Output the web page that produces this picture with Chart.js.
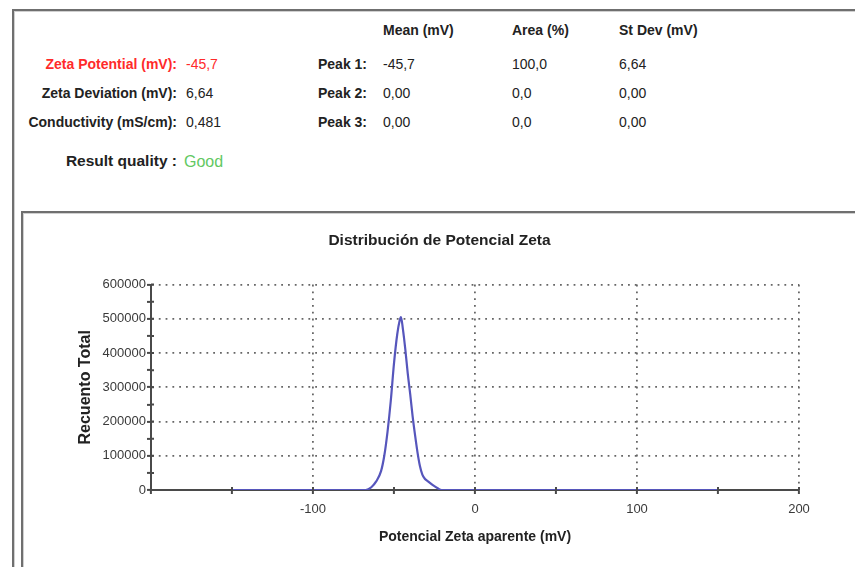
<!DOCTYPE html>
<html>
<head>
<meta charset="utf-8">
<script src="https://cdn.jsdelivr.net/npm/chart.js@4.4.0/dist/chart.umd.min.js"></script>
<style>
  html, body { margin: 0; padding: 0; background: #fff; }
  body { width: 855px; height: 567px; position: relative; overflow: hidden;
         font-family: "Liberation Sans", Arial, sans-serif; color: #222; }
  .frame { position: absolute; border-top: 2px solid #6f6f6f; border-left: 2px solid #6f6f6f;
           box-shadow: inset 1px 1px 0 #d0d0d0; }
  .t { position: absolute; font-size: 14px; line-height: 16px; white-space: nowrap; }
  .b { font-weight: bold; }
  .r { text-align: right; }
  .red { color: #ff2a2a; }
  #chartBox { position: absolute; left: 24px; top: 214px; width: 831px; height: 353px; }
</style>
</head>
<body>
<div class="frame" style="left:12px; top:9px; width:900px; height:600px;"></div>
<div class="frame" style="left:21px; top:211px; width:900px; height:400px;"></div>

<div id="summary"></div>

<div id="chartBox"><canvas id="zetaChart" width="831" height="353"></canvas></div>

<script>
// tabla de resultados
var headers = ['Mean (mV)', 'Area (%)', 'St Dev (mV)'];
var peakNames = ['Peak 1:', 'Peak 2:', 'Peak 3:'];
var peakMean = ['-45,7', '0,00', '0,00'];
var peakArea = ['100,0', '0,0', '0,0'];
var peakStDev = ['6,64', '0,00', '0,00'];
var summaryLabels = ['Zeta Potential (mV):', 'Zeta Deviation (mV):', 'Conductivity (mS/cm):'];
var summaryValues = ['-45,7', '6,64', '0,481'];

// distribucion
var zetaMv = [-150, -67.5, -64, -61, -58, -56, -54, -52, -50, -48, -46.5, -45.7, -44.5, -43, -41.5, -40,
              -38.5, -37, -35.5, -34, -32.5, -31, -29, -26, -23, -20.6, 150];
var totalCounts = [0, 0, 8000, 25000, 55000, 100000, 170000, 260000, 370000, 455000, 495000, 505000, 470000,
                   410000, 340000, 280000, 215000, 160000, 110000, 70000, 45000, 33000, 25000, 14000, 5000, 0, 0];
var xTickLabels = [-100, 0, 100, 200];
var yTickLabels = [0, 100000, 200000, 300000, 400000, 500000, 600000];

function addText(txt, x, y, cls, w) {
    var d = document.createElement('div');
    d.className = 't ' + (cls || '');
    d.textContent = txt;
    d.style.top = (y - 8) + 'px';
    if (w) { d.style.left = (x - w) + 'px'; d.style.width = w + 'px'; }
    else d.style.left = x + 'px';
    document.getElementById('summary').appendChild(d);
    return d;
}

var colX = [383, 512, 619];
var rowY = [64, 93, 122];
headers.forEach(function (h, i) { addText(h, colX[i], 30, 'b'); });
for (var i = 0; i < 3; i++) {
    var red = i === 0 ? ' red' : '';
    addText(summaryLabels[i], 177, rowY[i], 'b r' + red, 170);
    addText(summaryValues[i], 186, rowY[i], red);
    addText(peakNames[i], 318, rowY[i], 'b');
    addText(peakMean[i], colX[0], rowY[i]);
    addText(peakArea[i], colX[1], rowY[i]);
    addText(peakStDev[i], colX[2], rowY[i]);
}
var q = addText('Result quality :', 177, 161, 'b r', 170);
q.style.fontSize = '15.5px';
var g = addText('Good', 184, 162, '');
g.style.fontSize = '16px';
g.style.color = '#62c862';

var dotted = '#666';
var axisCol = '#4a4a4a';
var fontFam = '"Liberation Sans", Arial, sans-serif';

// marcas que cruzan el eje (hacia dentro)
var innerTicks = {
    id: 'innerTicks',
    afterDraw: function (c) {
        var a = c.chartArea, x = c.scales.x, y = c.scales.y, g = c.ctx;
        g.save();
        g.strokeStyle = axisCol;
        g.lineWidth = 2;
        g.beginPath();
        x.ticks.forEach(function (t) {
            var px = x.getPixelForValue(t.value);
            if (t.value === -200) return;
            g.moveTo(px, a.bottom); g.lineTo(px, a.bottom - 3);
        });
        y.ticks.forEach(function (t) {
            var py = y.getPixelForValue(t.value);
            if (t.value === 0) return;
            g.moveTo(a.left, py); g.lineTo(a.left + 3, py);
        });
        g.stroke();
        g.restore();
    }
};

var ctx = document.getElementById('zetaChart').getContext('2d');
var chart = new Chart(ctx, {
    type: 'line',
    data: {
        datasets: [{
            label: 'Recuento Total',
            data: zetaMv.map(function (x, k) { return { x: x, y: totalCounts[k] }; }),
            borderColor: '#5656bc',
            borderWidth: 2.2,
            pointRadius: 0,
            cubicInterpolationMode: 'monotone',
            fill: false
        }]
    },
    options: {
        responsive: false,
        animation: false,
        layout: { padding: { left: 56, right: 56, top: 0, bottom: 0 } },
        plugins: {
            legend: { display: false },
            tooltip: { enabled: false },
            title: {
                display: true,
                text: 'Distribución de Potencial Zeta',
                color: '#222',
                font: { family: fontFam, size: 15.5, weight: 'bold' },
                padding: { top: 17, bottom: 35 }
            }
        },
        scales: {
            x: {
                type: 'linear',
                min: -200,
                max: 200,
                afterFit: function (s) { s.height = 77; },
                ticks: {
                    stepSize: 50,
                    autoSkip: false,
                    maxRotation: 0,
                    padding: 8,
                    color: '#3a3a3a',
                    font: { family: fontFam, size: 13 },
                    callback: function (v) { return xTickLabels.indexOf(v) >= 0 ? String(v) : ''; }
                },
                grid: {
                    color: function (c) { return c.tick && c.tick.value % 100 === 0 ? dotted : 'rgba(0,0,0,0)'; },
                    lineWidth: 1.8,
                    tickLength: 4,
                    tickColor: axisCol,
                    tickWidth: 2
                },
                border: { display: true, color: axisCol, width: 2, dash: [1.8, 5] },
                title: {
                    display: true,
                    text: 'Potencial Zeta aparente (mV)',
                    color: '#222',
                    font: { family: fontFam, size: 14, weight: 'bold' },
                    padding: { top: 0, bottom: 21 }
                }
            },
            y: {
                min: 0,
                max: 600000,
                afterFit: function (s) { s.width = 71; },
                ticks: {
                    stepSize: 50000,
                    autoSkip: false,
                    padding: 1,
                    color: '#3a3a3a',
                    font: { family: fontFam, size: 13 },
                    callback: function (v) { return yTickLabels.indexOf(v) >= 0 ? String(v) : ''; }
                },
                grid: {
                    color: function (c) { return c.tick && c.tick.value % 100000 === 0 ? dotted : 'rgba(0,0,0,0)'; },
                    lineWidth: 1.8,
                    tickLength: 4,
                    tickColor: axisCol,
                    tickWidth: 2
                },
                border: { display: true, color: axisCol, width: 2, dash: [1.8, 5] },
                title: {
                    display: true,
                    text: 'Recuento Total',
                    color: '#222',
                    font: { family: fontFam, size: 16, weight: 'bold' },
                    padding: { top: -4, bottom: 0 }
                }
            }
        }
    },
    plugins: [innerTicks]
});
</script>
</body>
</html>
